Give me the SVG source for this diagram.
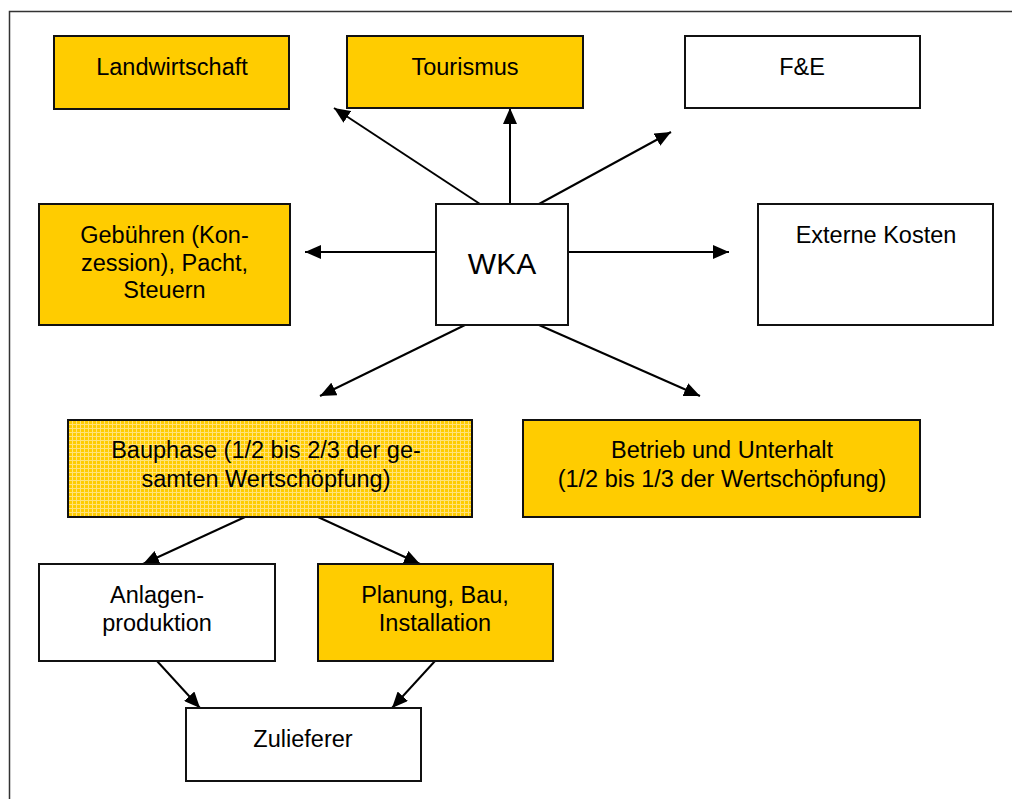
<svg xmlns="http://www.w3.org/2000/svg" width="1012" height="799" viewBox="0 0 1012 799">
<style>
.box{stroke:#111;stroke-width:2}
.y{fill:#FFCC00}
.w{fill:#FFFFFF}
.t{font-family:"Liberation Sans",Arial,sans-serif;font-size:23.5px;fill:#000;text-anchor:middle}
.big{font-size:30px}
.c{stroke:#000;stroke-width:2;fill:none;marker-end:url(#ah)}
</style>
<defs>
<marker id="ah" markerUnits="userSpaceOnUse" markerWidth="16" markerHeight="14" refX="16" refY="7" orient="auto">
<path d="M0,0 L16,7 L0,14 z" fill="#000"/>
</marker>
<pattern id="grid" width="4" height="4" patternUnits="userSpaceOnUse">
<rect width="4" height="4" fill="#FFCC00"/>
<rect width="4" height="1" fill="#FFE27A"/>
<rect width="1" height="4" fill="#FFE27A"/>
</pattern>
</defs>
<rect width="1012" height="799" fill="#fff"/>
<path d="M9.5,799 L9.5,11.5 L1012,11.5" fill="none" stroke="#333" stroke-width="1.5"/>

<g id="connectors">
<line class="c" x1="480" y1="204" x2="334" y2="108"/>
<line class="c" x1="510" y1="204" x2="510" y2="108"/>
<line class="c" x1="539" y1="204" x2="671" y2="132"/>
<line class="c" x1="436" y1="252" x2="305" y2="252"/>
<line class="c" x1="568" y1="252" x2="729" y2="252"/>
<line class="c" x1="465" y1="325" x2="320" y2="396"/>
<line class="c" x1="539" y1="325" x2="700" y2="396"/>
<line class="c" x1="245" y1="517" x2="143" y2="564"/>
<line class="c" x1="318" y1="517" x2="420" y2="564"/>
<line class="c" x1="157" y1="661" x2="200" y2="708"/>
<line class="c" x1="435" y1="661" x2="392" y2="708"/>
</g>

<g id="landwirtschaft">
<rect class="box y" x="54" y="36" width="235" height="73"/>
<text class="t" x="172" y="75">Landwirtschaft</text>
</g>
<g id="tourismus">
<rect class="box y" x="347" y="36" width="236" height="72"/>
<text class="t" x="465" y="75">Tourismus</text>
</g>
<g id="fue">
<rect class="box w" x="685" y="36" width="235" height="72"/>
<text class="t" x="802" y="75">F&amp;E</text>
</g>
<g id="gebuehren">
<rect class="box y" x="39" y="204" width="251" height="121"/>
<text class="t" x="164.5" y="243">Gebühren (Kon-</text>
<text class="t" x="164.5" y="271">zession), Pacht,</text>
<text class="t" x="164.5" y="298">Steuern</text>
</g>
<g id="wka">
<rect class="box w" x="436" y="204" width="132" height="121"/>
<text class="t big" x="502" y="274">WKA</text>
</g>
<g id="externe">
<rect class="box w" x="758" y="204" width="235" height="121"/>
<text class="t" x="876" y="243">Externe Kosten</text>
</g>
<g id="bauphase">
<rect class="box" fill="url(#grid)" x="68" y="420" width="404" height="97"/>
<text class="t" x="266" y="458">Bauphase (1/2 bis 2/3 der ge-</text>
<text class="t" x="266" y="487">samten Wertschöpfung)</text>
</g>
<g id="betrieb">
<rect class="box y" x="523" y="420" width="397" height="97"/>
<text class="t" x="722" y="458">Betrieb und Unterhalt</text>
<text class="t" x="722" y="487">(1/2 bis 1/3 der Wertschöpfung)</text>
</g>
<g id="anlagen">
<rect class="box w" x="39" y="564" width="236" height="97"/>
<text class="t" x="157" y="603">Anlagen-</text>
<text class="t" x="157" y="631">produktion</text>
</g>
<g id="planung">
<rect class="box y" x="318" y="564" width="235" height="97"/>
<text class="t" x="435" y="603">Planung, Bau,</text>
<text class="t" x="435" y="631">Installation</text>
</g>
<g id="zulieferer">
<rect class="box w" x="186" y="708" width="235" height="73"/>
<text class="t" x="303" y="747">Zulieferer</text>
</g>
</svg>
